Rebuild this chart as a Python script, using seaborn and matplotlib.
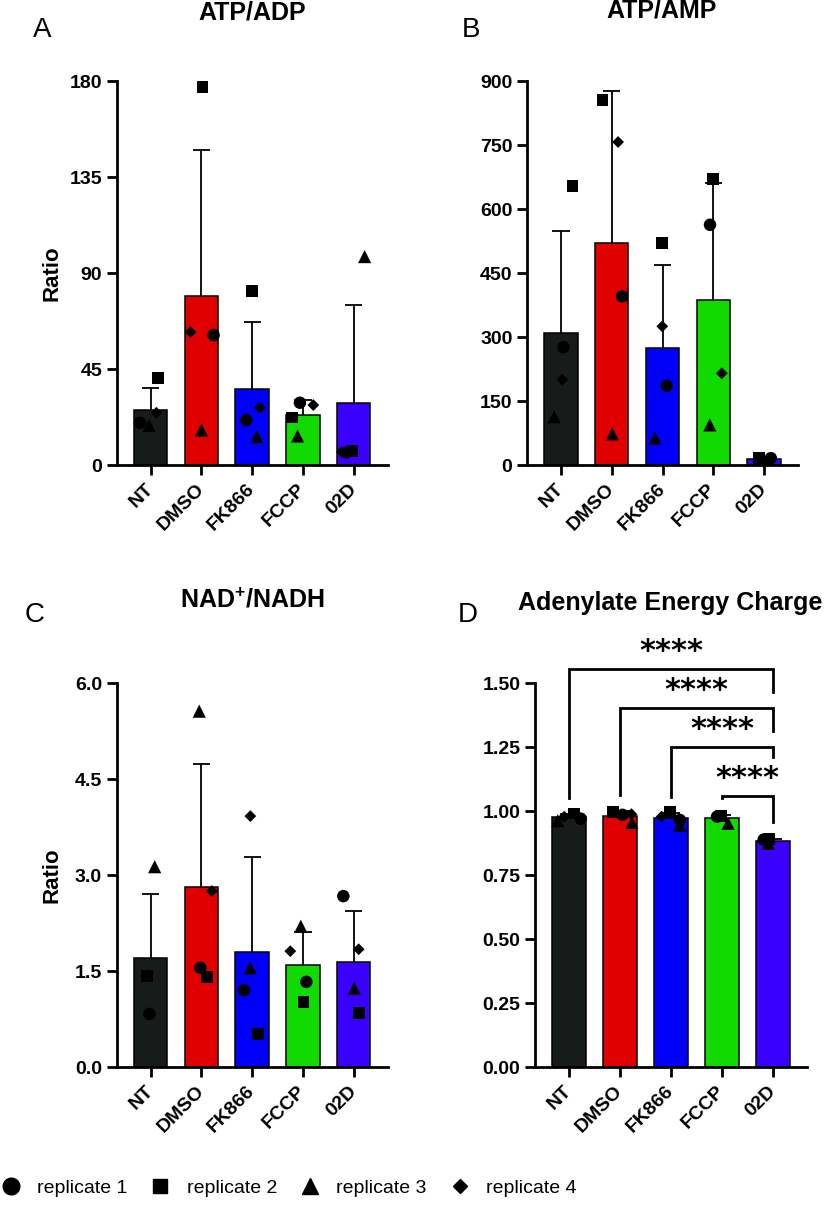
import numpy as np
import pandas as pd
import seaborn as sns
import matplotlib.pyplot as plt
from matplotlib.lines import Line2D
from matplotlib.markers import MarkerStyle

# groups / replicates
groups = ["NT", "DMSO", "FK866", "FCCP", "02D"]
replicates = ["replicate 1", "replicate 2", "replicate 3", "replicate 4"]
group_colors = ["#171c1a", "#e00000", "#0000fa", "#10da00", "#3a00ff"]
rep_markers = ["o", "s", "^", "D"]
rep_sizes = [9, 8.5, 9.5, 6]

# one row per group, values for replicate 1..4
atp_adp = [[19.8, 40.6, 18.5, 24.5],
           [60.9, 177.0, 16.4, 62.3],
           [21.1, 81.7, 13.3, 26.9],
           [29.2, 22.3, 13.6, 28.1],
           [5.8, 6.7, 97.7, 6.2]]
atp_amp = [[276, 653, 113, 200],
           [395, 855, 73, 757],
           [186, 520, 63, 325],
           [563, 671, 94, 215],
           [16, 17, 5, 15]]
nad_nadh = [[0.83, 1.42, 3.13, 1.44],
            [1.55, 1.40, 5.56, 2.75],
            [1.20, 0.52, 1.55, 3.92],
            [1.33, 1.02, 2.20, 1.81],
            [2.67, 0.85, 1.23, 1.84]]
energy_charge = [[0.970, 0.990, 0.962, 0.978],
                 [0.985, 0.997, 0.955, 0.988],
                 [0.965, 0.995, 0.945, 0.978],
                 [0.978, 0.980, 0.952, 0.980],
                 [0.888, 0.890, 0.874, 0.887]]

# significance brackets in panel D
sig_pairs = [(0, 4), (1, 4), (2, 4), (3, 4)]
sig_heights = [1.555, 1.404, 1.25, 1.059]
sig_left_ends = [1.05, 1.062, 1.056, 1.05]
sig_right_ends = [1.465, 1.313, 1.212, 0.958]
sig_labels = ["****", "****", "****", "****"]

plt.rcParams['font.family'] = ['Liberation Sans', 'DejaVu Sans']
plt.rcParams['mathtext.fontset'] = 'custom'
plt.rcParams['mathtext.rm'] = 'Liberation Sans'
plt.rcParams['mathtext.bf'] = 'Liberation Sans:bold'

W, H = 827, 1205


def px(x, y):
    return x / W, 1 - y / H


def to_long(vals):
    rows = []
    for g, row in zip(groups, vals):
        for r, v in zip(replicates, row):
            rows.append({"group": g, "rep": r, "value": v})
    return pd.DataFrame(rows)


def marker_path(m):
    ms = MarkerStyle(m)
    return ms.get_path().transformed(ms.get_transform())


def draw_panel(ax, vals, yticks, fmt, ylabel=True):
    df = to_long(vals)
    sns.barplot(data=df, x="group", y="value", hue="group", order=groups, hue_order=groups,
                palette=group_colors, saturation=1, errorbar=None, width=0.66,
                edgecolor="black", linewidth=1.1, legend=False, ax=ax, zorder=1)
    stats = df.groupby("group")["value"].agg(["mean", "std"]).reindex(groups)
    xs = np.arange(len(groups))
    top = stats["mean"] + stats["std"]
    ax.vlines(xs, stats["mean"], top, color="black", lw=1.3, zorder=0.9)
    ax.hlines(top, xs - 0.17, xs + 0.17, color="black", lw=1.3, zorder=0.9)

    # replicate points, jittered by seaborn, one marker shape per replicate
    n0 = len(ax.collections)
    sns.stripplot(data=df, x="group", y="value", hue="rep", order=groups, hue_order=replicates,
                  palette=["black"] * 4, jitter=0.25, size=9, linewidth=0, legend=False,
                  ax=ax, zorder=3)
    paths = [marker_path(m) for m in rep_markers]
    for k, coll in enumerate(ax.collections[n0:]):
        sub = df[df["group"] == groups[k]]
        idx = [replicates.index(r) for r in sub["rep"]]
        coll.set_paths([paths[i] for i in idx])
        coll.set_sizes([rep_sizes[i] ** 2 for i in idx])

    ax.set_xlim(-0.67, 4.67)
    ax.set_ylim(yticks[0], yticks[-1])
    ax.set_yticks(yticks)
    ax.set_yticklabels([fmt.format(t) for t in yticks], fontsize=14, fontweight="bold")
    ax.set_xticks(xs)
    ax.set_xticklabels(groups, rotation=45, ha="right", va="center", rotation_mode="anchor",
                       fontsize=14, fontweight="bold")
    ax.set_xlabel("")
    ax.set_ylabel("Ratio" if ylabel else "", fontsize=16, fontweight="bold")
    ax.yaxis.set_label_coords(-0.2, 0.5)
    for s in ["top", "right"]:
        ax.spines[s].set_visible(False)
    for s in ["left", "bottom"]:
        ax.spines[s].set_linewidth(2.0)
    ax.tick_params(axis="both", direction="out", width=2.0, length=7.5, pad=3)
    ax.tick_params(axis="x", pad=8)


np.random.seed(7)
fig = plt.figure(figsize=(8.27, 12.05), dpi=100)
ax_a = fig.add_axes([116.7 / W, 1 - 465 / H, 271 / W, 384 / H])
ax_b = fig.add_axes([527 / W, 1 - 465 / H, 271 / W, 384 / H])
ax_c = fig.add_axes([116.7 / W, 1 - 1067 / H, 271 / W, 384 / H])
ax_d = fig.add_axes([535 / W, 1 - 1067 / H, 272 / W, 384 / H])

draw_panel(ax_a, atp_adp, [0, 45, 90, 135, 180], "{:.0f}")
draw_panel(ax_b, atp_amp, [0, 150, 300, 450, 600, 750, 900], "{:.0f}", ylabel=False)
draw_panel(ax_c, nad_nadh, [0, 1.5, 3.0, 4.5, 6.0], "{:.1f}")
draw_panel(ax_d, energy_charge, [0, 0.25, 0.5, 0.75, 1.0, 1.25, 1.5], "{:.2f}", ylabel=False)

# significance brackets
for (i, j), h, le, re, lab in zip(sig_pairs, sig_heights, sig_left_ends, sig_right_ends, sig_labels):
    ax_d.plot([i, i, j, j], [le, h, h, re], color="black", lw=2.0, clip_on=False,
              solid_joinstyle="miter", zorder=4)
    ax_d.text((i + j) / 2, h + 0.068, lab, ha="center", va="center", fontsize=22,
              fontweight="bold", family="DejaVu Sans", clip_on=False)

# titles and panel letters
titles = [("ATP/ADP", 252, 13), ("ATP/AMP", 662, 11),
          (r"NAD$^{\mathbf{+}}$/NADH", 252, 600), ("Adenylate Energy Charge", 670, 603)]
for t, x, y in titles:
    fig.text(*px(x, y), t, ha="center", va="center", fontsize=18, fontweight="bold")
letters = [("A", 42, 30), ("B", 471, 30), ("C", 35, 615), ("D", 468, 615)]
for t, x, y in letters:
    fig.text(*px(x, y), t, ha="center", va="center", fontsize=20)

# legend
handles = [Line2D([], [], marker=m, ls="none", color="black", markersize=s)
           for m, s in zip(rep_markers, [12, 10.5, 12, 7])]
fig.legend(handles, replicates, loc="center left", bbox_to_anchor=px(3, 1188),
           ncol=4, frameon=False, fontsize=14, handlelength=0.8, handletextpad=0.94,
           columnspacing=1.31, borderpad=0, borderaxespad=0)

fig.savefig("out.png", dpi=100)
